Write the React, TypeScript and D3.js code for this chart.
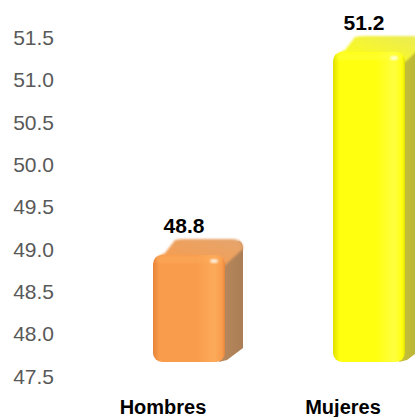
import React, { useRef, useEffect } from 'react';
import * as d3 from 'd3';

const categories = ['Hombres', 'Mujeres'];
const values = [48.8, 51.2];
const tickValues = [47.5, 48.0, 48.5, 49.0, 49.5, 50.0, 50.5, 51.0, 51.5];

const PALETTE = [
  { edge: '#e8843a', mid: '#f99c4c', light: '#fcab5a', top: '#e4a56e', side: '#b98a5f', sideDark: '#ab7d54' },
  { edge: '#e0e000', mid: '#ffff10', light: '#ffff40', top: '#eaea5a', side: '#c5c03c', sideDark: '#b7b232' },
];

const App: React.FC = () => {
  const svgRef = useRef<SVGSVGElement | null>(null);
  const width = 415;
  const height = 417;

  useEffect(() => {
    document.body.style.margin = '0';
    if (!svgRef.current) return;

    const svg = d3.select(svgRef.current);
    svg.selectAll('*').remove();
    svg.attr('width', width).attr('height', height);

    const y = d3.scaleLinear().domain([47.5, 51.5]).range([376, 37.5]);
    const x = d3.scalePoint<string>().domain(categories).range([189, 369]);

    const barW = 72;
    const dx = 18;
    const dy = -16;
    const topOffset = -11;
    const floorY = y(47.5) - 14;

    const defs = svg.append('defs');
    PALETTE.forEach((p, i) => {
      const fg = defs.append('linearGradient')
        .attr('id', `front${i}`)
        .attr('x1', 0).attr('x2', 1).attr('y1', 0).attr('y2', 0);
      fg.append('stop').attr('offset', '0%').attr('stop-color', p.edge);
      fg.append('stop').attr('offset', '9%').attr('stop-color', p.mid);
      fg.append('stop').attr('offset', '60%').attr('stop-color', p.mid);
      fg.append('stop').attr('offset', '85%').attr('stop-color', p.light);
      fg.append('stop').attr('offset', '96%').attr('stop-color', p.mid);
      fg.append('stop').attr('offset', '100%').attr('stop-color', p.edge);

      const sg = defs.append('linearGradient')
        .attr('id', `side${i}`)
        .attr('x1', 0).attr('x2', 1).attr('y1', 0).attr('y2', 0);
      sg.append('stop').attr('offset', '0%').attr('stop-color', p.side);
      sg.append('stop').attr('offset', '100%').attr('stop-color', p.sideDark);

      const tg = defs.append('linearGradient')
        .attr('id', `top${i}`)
        .attr('x1', 0).attr('x2', 1).attr('y1', 1).attr('y2', 0);
      tg.append('stop').attr('offset', '0%').attr('stop-color', p.mid);
      tg.append('stop').attr('offset', '100%').attr('stop-color', p.top);
    });
    const blur = defs.append('filter').attr('id', 'soft');
    blur.append('feGaussianBlur').attr('stdDeviation', 1.2);

    // Y axis labels
    svg.append('g')
      .selectAll('text')
      .data(tickValues)
      .enter()
      .append('text')
      .attr('x', 54)
      .attr('y', d => y(d))
      .attr('dy', '0.36em')
      .attr('text-anchor', 'end')
      .attr('fill', '#595959')
      .attr('font-family', 'Liberation Sans, Arial, sans-serif')
      .attr('font-size', '21px')
      .text(d => d.toFixed(1));

    // Bars
    categories.forEach((c, i) => {
      const p = PALETTE[i];
      const x0 = (x(c) || 0) - barW / 2;
      const x1 = x0 + barW;
      const yTop = y(values[i]) + topOffset;
      const g = svg.append('g');

      // right side face
      g.append('path')
        .attr('d', `M${x1 - 6},${yTop + 4} L${x1 + dx - 4},${yTop + dy + 2}
          Q${x1 + dx},${yTop + dy + 4} ${x1 + dx},${yTop + dy + 10}
          L${x1 + dx},${floorY + dy + 2} L${x1 + 2},${floorY - 2} L${x1 - 6},${floorY} Z`)
        .attr('fill', `url(#side${i})`);

      // top face
      g.append('path')
        .attr('d', `M${x0 + 4},${yTop + 4} Q${x0 + 6},${yTop} ${x0 + 12},${yTop - 2}
          L${x0 + dx + 4},${yTop + dy + 1} Q${x0 + dx + 8},${yTop + dy} ${x0 + dx + 14},${yTop + dy}
          L${x1 + dx - 10},${yTop + dy} Q${x1 + dx},${yTop + dy} ${x1 + dx},${yTop + dy + 10}
          L${x1},${yTop + 10} Z`)
        .attr('fill', `url(#top${i})`)
        .attr('filter', 'url(#soft)');

      // front face
      g.append('rect')
        .attr('x', x0)
        .attr('y', yTop)
        .attr('width', barW)
        .attr('height', floorY - yTop)
        .attr('rx', 9)
        .attr('ry', 9)
        .attr('fill', `url(#front${i})`);

      // top rounded band
      g.append('rect')
        .attr('x', x0 + 3)
        .attr('y', yTop + 1)
        .attr('width', barW - 6)
        .attr('height', 7)
        .attr('rx', 4)
        .attr('fill', p.light)
        .attr('opacity', 0.5)
        .attr('filter', 'url(#soft)');

      // highlight
      g.append('ellipse')
        .attr('cx', x1 - 11)
        .attr('cy', yTop + 6)
        .attr('rx', 4)
        .attr('ry', 2)
        .attr('fill', '#ffffff')
        .attr('opacity', 0.8)
        .attr('filter', 'url(#soft)');

      // value label
      svg.append('text')
        .attr('x', (x(c) || 0) - 5)
        .attr('y', yTop - 22)
        .attr('text-anchor', 'middle')
        .attr('fill', '#000000')
        .attr('font-family', 'Liberation Sans, Arial, sans-serif')
        .attr('font-weight', 'bold')
        .attr('font-size', '21px')
        .text(values[i].toFixed(1));

      // category label
      svg.append('text')
        .attr('x', (x(c) || 0) - 26)
        .attr('y', 414)
        .attr('text-anchor', 'middle')
        .attr('fill', '#000000')
        .attr('font-family', 'Liberation Sans, Arial, sans-serif')
        .attr('font-weight', 'bold')
        .attr('font-size', '20px')
        .text(c);
    });
  }, []);

  return <svg ref={svgRef} style={{ display: 'block' }} />;
};

export default App;
